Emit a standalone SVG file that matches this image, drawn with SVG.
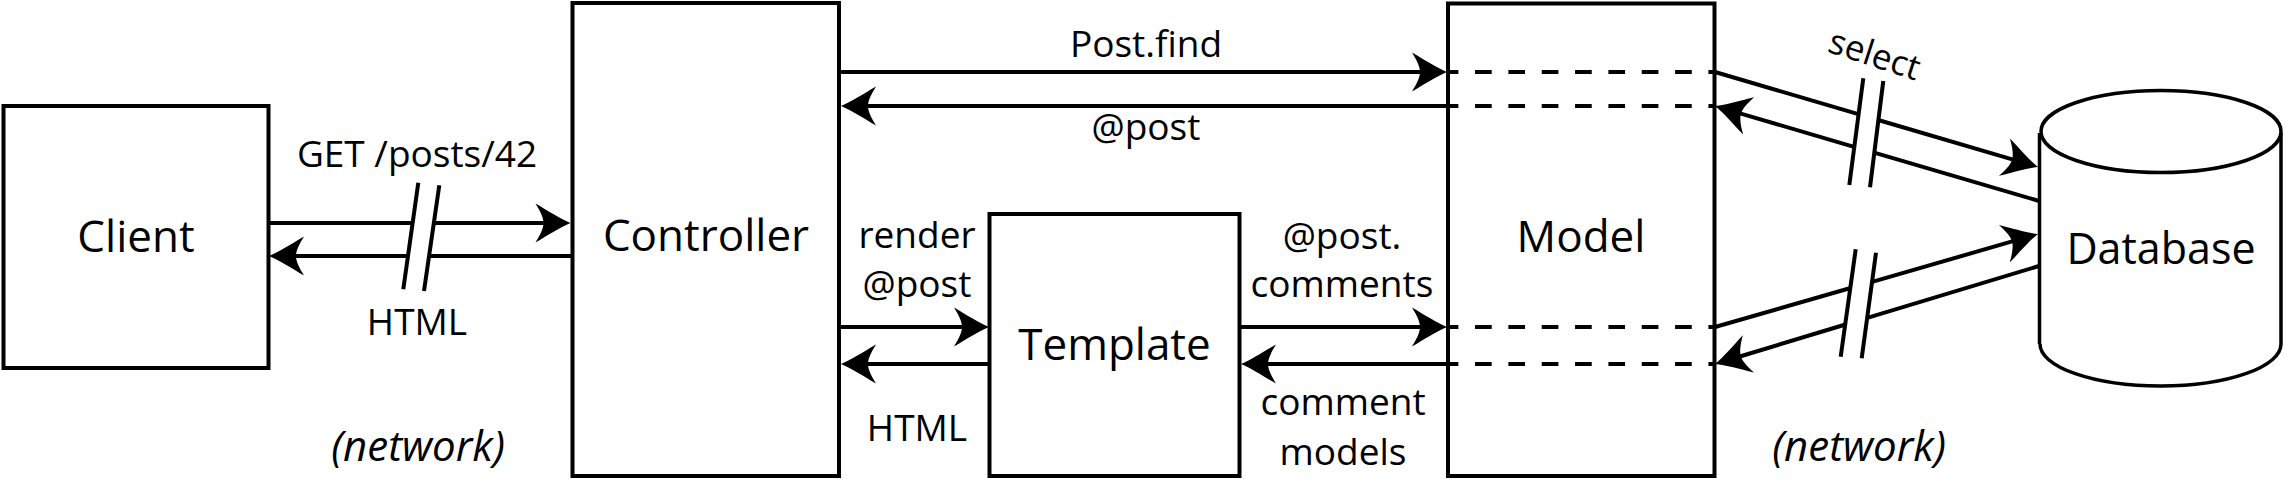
<svg xmlns="http://www.w3.org/2000/svg" width="2285" height="479" viewBox="0 0 2285 479">
<style>
.box{fill:#fff;stroke:#000;stroke-width:4}
.cyl{fill:none;stroke:#000;stroke-width:3.5}
.node{font-family:"Open Sans","Liberation Sans",sans-serif;font-size:44px;fill:#000;text-anchor:middle}
.lbl{font-family:"Open Sans","Liberation Sans",sans-serif;font-size:37px;fill:#000;text-anchor:middle}
.net{font-family:"Open Sans","Liberation Sans",sans-serif;font-size:42px;font-style:italic;fill:#000;text-anchor:middle}
.ln{fill:none;stroke:#000;stroke-width:4}
.arr{marker-end:url(#ah)}
.dash{fill:none;stroke:#000;stroke-width:4;stroke-dasharray:16.67 16.67;stroke-dashoffset:6.3}
.brk{fill:none;stroke:#000;stroke-width:4}
</style>
<defs>
<marker id="ah" markerUnits="userSpaceOnUse" orient="auto" refX="0" refY="0" markerWidth="80" markerHeight="80" viewBox="-40 -40 80 80" overflow="visible">
<path d="M26,0 C16,-4 4,-12 -9,-19.5 C-3,-10 -1,-4 -1,0 C-1,4 -3,10 -9,19.5 C4,12 16,4 26,0 Z" fill="#000"/>
</marker>
</defs>
<rect x="0" y="0" width="2285" height="479" fill="#fff"/>

<g id="client">
<rect class="box" x="3.5" y="106" width="265" height="262"/>
<text class="node" x="136" y="252">Client</text>
</g>
<g id="controller">
<rect class="box" x="572.5" y="3" width="266.5" height="473"/>
<text class="node" x="706" y="251">Controller</text>
</g>
<g id="template">
<rect class="box" x="989.5" y="214" width="250" height="262"/>
<text class="node" x="1114.5" y="360">Template</text>
</g>
<g id="model">
<rect class="box" x="1448" y="3.5" width="266.5" height="472.5"/>
<line class="dash" x1="1448" y1="72" x2="1714" y2="72"/>
<line class="dash" x1="1448" y1="106" x2="1714" y2="106"/>
<line class="dash" x1="1448" y1="327" x2="1714" y2="327"/>
<line class="dash" x1="1448" y1="364" x2="1714" y2="364"/>
<text class="node" x="1581" y="252">Model</text>
</g>
<g id="database">
<path class="cyl" d="M2039.5,133 V344 M2281,133 V344 M2040,344 A120.5,42 0 0 0 2281,344"/>
<ellipse class="cyl" cx="2161" cy="131.5" rx="120" ry="41"/>
<text class="node" x="2161" y="264" style="font-size:43px">Database</text>
</g>

<g id="connectors">
<!-- Client <-> Controller -->
<line class="ln" x1="268.5" y1="223" x2="412.6" y2="223"/>
<line class="ln arr" x1="433.8" y1="223" x2="544.5" y2="223"/>
<line class="ln" x1="572" y1="256" x2="429.1" y2="256"/>
<line class="ln arr" x1="408" y1="256" x2="295" y2="256"/>
<line class="brk" x1="418.3" y1="182.7" x2="403.3" y2="289.3"/>
<line class="brk" x1="439.3" y1="185.3" x2="424" y2="291"/>
<!-- Controller <-> Model -->
<line class="ln arr" x1="839" y1="72" x2="1421" y2="72"/>
<line class="ln arr" x1="1448" y1="106" x2="867" y2="106"/>
<!-- Controller <-> Template -->
<line class="ln arr" x1="839" y1="327" x2="963" y2="327"/>
<line class="ln arr" x1="989.5" y1="364" x2="867" y2="364"/>
<!-- Template <-> Model -->
<line class="ln arr" x1="1239.5" y1="327" x2="1421" y2="327"/>
<line class="ln arr" x1="1448" y1="364" x2="1267" y2="364"/>
<!-- Model <-> Database -->
<line class="ln" x1="1715" y1="72" x2="1858.3" y2="114.1"/>
<line class="ln arr" x1="1878.2" y1="120" x2="2013.1" y2="159.7"/>
<line class="ln" x1="2039" y1="201" x2="1874.2" y2="152.7"/>
<line class="ln arr" x1="1854" y1="146.8" x2="1740" y2="113.3"/>
<line class="brk" x1="1863.3" y1="78.3" x2="1849.3" y2="185"/>
<line class="brk" x1="1883.3" y1="81" x2="1870" y2="187.3"/>
<line class="ln" x1="1715" y1="327" x2="1850.6" y2="288"/>
<line class="ln arr" x1="1872.2" y1="281.8" x2="2013" y2="241.2"/>
<line class="ln" x1="2039" y1="266" x2="1867.3" y2="317.9"/>
<line class="ln arr" x1="1845.5" y1="324.5" x2="1739.9" y2="356.5"/>
<line class="brk" x1="1855.7" y1="249.3" x2="1840.7" y2="356.7"/>
<line class="brk" x1="1876" y1="252.7" x2="1861.7" y2="358.3"/>
</g>

<g id="labels">
<text class="lbl" x="417" y="167">GET /posts/42</text>
<text class="lbl" x="417" y="335">HTML</text>
<text class="lbl" x="1146" y="57">Post.find</text>
<text class="lbl" x="1146" y="140">@post</text>
<text class="lbl" x="917" y="248">render</text>
<text class="lbl" x="917" y="297">@post</text>
<text class="lbl" x="917" y="441">HTML</text>
<text class="lbl" x="1342" y="249">@post.</text>
<text class="lbl" x="1342" y="297">comments</text>
<text class="lbl" x="1343" y="415">comment</text>
<text class="lbl" x="1343" y="465">models</text>
<text class="lbl" transform="translate(1871,66) rotate(18)" style="font-size:35px">select</text>
<text class="net" x="418" y="461">(network)</text>
<text class="net" x="1859" y="461">(network)</text>
</g>
</svg>
